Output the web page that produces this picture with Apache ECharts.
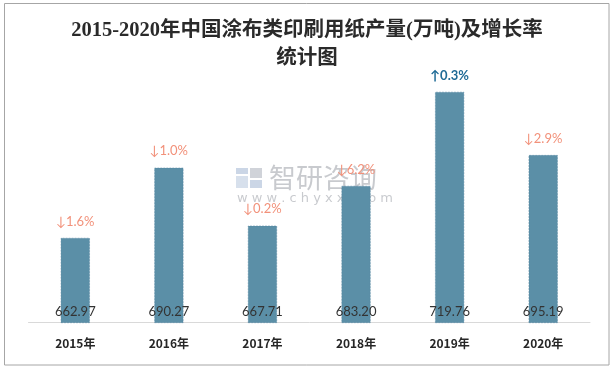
<!DOCTYPE html>
<html>
<head>
<meta charset="utf-8">
<script src="https://cdn.jsdelivr.net/npm/echarts@6/dist/echarts.min.js"></script>
<style>
html,body{margin:0;padding:0;background:#fff;}
#main{width:614px;height:369px;}
</style>
</head>
<body>
<div id="main"></div>
<script>
const categories = ['2015年','2016年','2017年','2018年','2019年','2020年'];
const production = [662.97, 690.27, 667.71, 683.20, 719.76, 695.19];
const growthText = ['1.6%','1.0%','0.2%','6.2%','0.3%','2.9%'];
const growthDir = ['down','down','down','down','up','down'];

const chart = echarts.init(document.getElementById('main'));
const option = {
  backgroundColor: '#ffffff',
  animation: false,
  title: {
    text: '2015-2020年中国涂布类印刷用纸产量(万吨)及增长率\n统计图',
    left: 'center',
    top: 12,
    textStyle: {
      fontFamily: '"Liberation Serif", "Noto Sans CJK SC", serif',
      fontSize: 20.5,
      fontWeight: 'bold',
      color: '#2a2a2a',
      lineHeight: 28
    }
  },
  grid: { left: 28.5, right: 24, top: 65.6, bottom: 46.3 },
  xAxis: {
    type: 'category',
    data: categories,
    axisLine: { lineStyle: { color: '#d9d9d9', width: 1 } },
    axisTick: { show: false },
    axisLabel: {
      margin: 15,
      fontFamily: '"Noto Sans CJK SC", sans-serif',
      fontSize: 12,
      fontWeight: 'bold',
      color: '#262626'
    }
  },
  yAxis: {
    type: 'value',
    min: 630,
    max: 730,
    show: false,
    splitLine: { show: false }
  },
  series: [
    {
      type: 'bar',
      data: production,
      barWidth: 29,
      itemStyle: { color: '#5b8fa7', borderColor: '#5585a0', borderWidth: 0.5, borderType: 'dashed' },
      label: {
        show: true,
        position: 'insideBottom',
        distance: 5,
        fontFamily: 'Lato, "Noto Sans", sans-serif',
        fontSize: 13,
        color: '#333333',
        formatter: p => production[p.dataIndex].toFixed(2)
      },
      z: 2
    },
    {
      type: 'bar',
      data: production,
      barWidth: 29,
      barGap: '-100%',
      itemStyle: { color: 'rgba(0,0,0,0)' },
      label: {
        show: true,
        position: 'top',
        distance: 10,
        fontFamily: 'Lato, "Noto Sans", sans-serif',
        fontSize: 13,
        formatter: p => (growthDir[p.dataIndex] === 'up' ? '{u|↑' + growthText[p.dataIndex] + '}' : '{d|↓' + growthText[p.dataIndex] + '}'),
        rich: {
          u: { color: '#1f6b96', fontWeight: 'bold', fontSize: 13, fontFamily: 'Lato, "Noto Sans", sans-serif' },
          d: { color: '#f2917a', fontSize: 13, fontFamily: 'Lato, "Noto Sans", sans-serif' }
        }
      },
      z: 3
    }
  ],
  graphic: [
    {
      type: 'rect',
      shape: { x: 4.5, y: 3.5, width: 604.5, height: 361.5 },
      style: { fill: 'none', stroke: '#a6a6a6', lineWidth: 1 },
      silent: true, z: 100
    },
    {
      type: 'group', left: 236, top: 164, z: 90, silent: true,
      children: [
        { type: 'rect', shape: { x: 0, y: 4, width: 12, height: 6 }, style: { fill: 'rgba(140,165,200,0.45)' } },
        { type: 'rect', shape: { x: 0, y: 12, width: 12, height: 12 }, style: { fill: 'rgba(140,165,200,0.35)' } },
        { type: 'rect', shape: { x: 14, y: 4, width: 12, height: 10 }, style: { fill: 'rgba(120,130,145,0.35)' } },
        { type: 'rect', shape: { x: 14, y: 16, width: 12, height: 8 }, style: { fill: 'rgba(140,165,200,0.45)' } },
        { type: 'text', x: 33, y: 0, style: { text: '智研咨询', fontSize: 27, fontFamily: '"Noto Sans CJK SC", sans-serif', fill: 'rgba(110,115,125,0.38)' } },
        { type: 'text', x: 1, y: 28, style: { text: 'w w w . c h y x x . c o m', fontSize: 13, fontFamily: '"DejaVu Sans", sans-serif', fill: 'rgba(110,115,125,0.38)' } }
      ]
    }
  ]
};
chart.setOption(option);
</script>
</body>
</html>
